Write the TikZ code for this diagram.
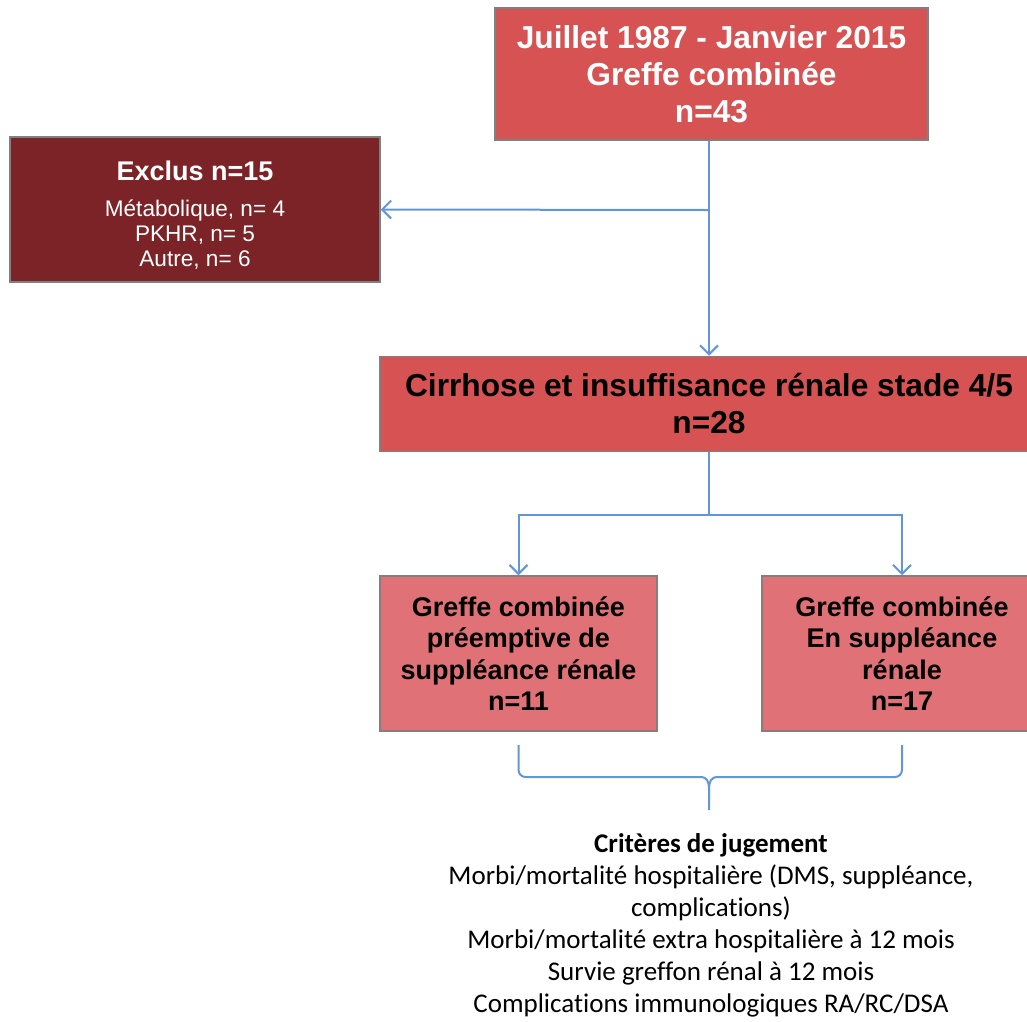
\documentclass[tikz,border=0pt]{standalone}
\usepackage{fontspec}
\setmainfont{Liberation Sans}
\newfontfamily\carlito[Ligatures=NoCommon]{Carlito}
\usetikzlibrary{arrows.meta}
\definecolor{redA}{RGB}{214,82,83}
\definecolor{redB}{RGB}{224,114,119}
\definecolor{redD}{RGB}{124,35,39}
\definecolor{edgeG}{RGB}{128,128,128}
\definecolor{lineB}{RGB}{98,150,216}
\tikzset{
  boxbase/.style={draw=edgeG, line width=1.5pt, align=center, inner sep=0pt},
  topbox/.style={boxbase, fill=redA, text=white, font=\fontsize{31.7}{37}\selectfont\bfseries},
  midbox/.style={boxbase, fill=redA, text=black, font=\fontsize{31.7}{37}\selectfont\bfseries},
  exbox/.style={boxbase, fill=redD},
  extext/.style={align=center, inner sep=0pt, text=white, font=\fontsize{22.6}{25}\selectfont},
  subbox/.style={boxbase, fill=redB, text=black, font=\fontsize{27}{31.5}\selectfont\bfseries},
  conn/.style={draw=lineB, line width=2pt},
  arr/.style={conn, -{Straight Barb[length=9pt,width=18pt,line width=2pt]}},
}
\begin{document}
\begin{tikzpicture}[x=1pt,y=-1pt]
\useasboundingbox (0,0) rectangle (1027,1021);
\node[topbox, minimum width=433pt, minimum height=132pt] (top) at (711.5,74)
  {Juillet 1987 - Janvier 2015\\Greffe combinée\\n=43};
\node[exbox, minimum width=370pt, minimum height=145pt] (excl) at (195,209.5) {};
\node[extext] (exclt) at (195,215)
  {{\fontsize{27}{30}\selectfont\bfseries Exclus n=15}\\[11pt]
   Métabolique, n= 4\\
   PKHR, n= 5\\
   Autre, n= 6};
\node[midbox, minimum width=658pt, minimum height=95pt] (mid) at (709,404)
  {Cirrhose et insuffisance rénale stade 4/5\\n=28};
\node[subbox, minimum width=277pt, minimum height=155pt] (left) at (518.5,653.5)
  {Greffe combinée\\préemptive de\\suppléance rénale\\n=11};
\node[subbox, minimum width=280pt, minimum height=155pt] (right) at (902,653.5)
  {Greffe combinée\\En suppléance\\rénale\\n=17};
\coordinate (branch) at (709,210);
\coordinate (split) at (709,515);
\draw[arr] (top.south -| branch) -- (mid.north);
\draw[arr] (branch) -- (excl.east);
\draw[conn] (mid.south) -- (split);
\draw[arr] (split) -| (left.north);
\draw[arr] (split) -| (right.north);
% brace
\coordinate (bl) at (518.5,745);
\coordinate (br) at (902,745);
\coordinate (btip) at (709,810);
\draw[conn, rounded corners=7pt] (bl) -- (518.5,777) -- (700,777);
\draw[conn, rounded corners=7pt] (br) -- (902,777) -- (718,777);
\draw[conn] (700,777) .. controls (707,777) and (709,781) .. (709,790) -- (btip);
\draw[conn] (718,777) .. controls (711,777) and (709,781) .. (709,790);
\node[align=center, font=\carlito\fontsize{27}{32}\selectfont, inner sep=0pt] (crit) at (711,925)
  {\textbf{Critères de jugement}\\
   Morbi/mortalité hospitalière (DMS, suppléance,\\
   complications)\\
   Morbi/mortalité extra hospitalière à 12 mois\\
   Survie greffon rénal à 12 mois\\
   Complications immunologiques RA/RC/DSA};
\end{tikzpicture}
\end{document}
